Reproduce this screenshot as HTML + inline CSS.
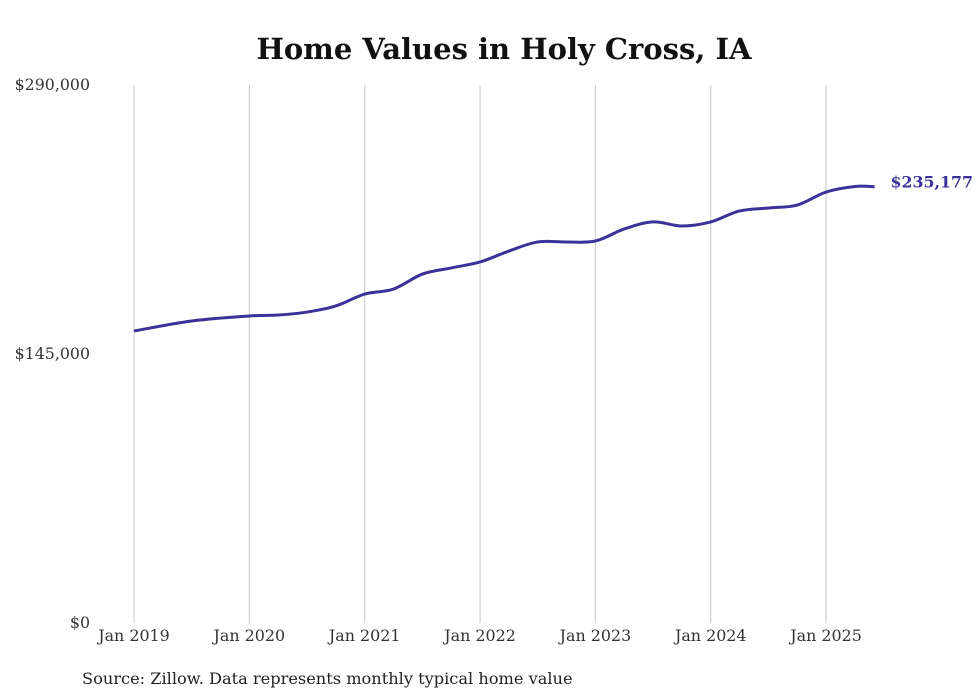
<!DOCTYPE html>
<html><head><meta charset="utf-8"><style>
body{margin:0;background:#fff;}
svg{display:block;font-family:"DejaVu Serif","Liberation Serif",serif;}
</style></head><body>
<svg id="chart" width="980" height="699">
<text x="504" y="59" text-anchor="middle" font-size="29" font-weight="bold" fill="#111">Home Values in Holy Cross, IA</text>
<g id="grid"></g><g id="yt"></g><g id="xt"></g>
<path id="line" fill="none" stroke="#3b3199" stroke-width="3"/>
<text id="endlabel" font-size="15.8" font-weight="bold" fill="#3b3199"></text>
<text x="82" y="684" font-size="16.2" fill="#222">Source: Zillow. Data represents monthly typical home value</text>
</svg>
<script>
const dates=[2019,2019.5,2020,2020.25,2020.5,2020.75,2021,2021.25,2021.5,2021.75,2022,2022.25,2022.5,2022.75,2023,2023.25,2023.5,2023.75,2024,2024.25,2024.5,2024.75,2025,2025.25,2025.42];
const values=[157400,162800,165500,166000,167600,170900,177300,180000,188100,191400,194600,200500,205400,205400,205900,212400,216200,214000,216200,222100,223700,225300,232300,235300,235177];
const yTicks=[0,145000,290000];
const yLabels=["$0","$145,000","$290,000"];
const xYears=[2019,2020,2021,2022,2023,2024,2025];
const xLabels=["Jan 2019","Jan 2020","Jan 2021","Jan 2022","Jan 2023","Jan 2024","Jan 2025"];
const NS="http://www.w3.org/2000/svg";
const X=d=>134+(d-2019)*115.35, Y=v=>623-v/290000*538;
function mk(t,a,p){const e=document.createElementNS(NS,t);for(const k in a)e.setAttribute(k,a[k]);p.appendChild(e);return e;}
const g=document.getElementById('grid'),yt=document.getElementById('yt'),xt=document.getElementById('xt');
xYears.forEach((d,i)=>{
 const l=mk('line',{x1:X(d),x2:X(d),y1:85,y2:623,stroke:'#c8c8c8','stroke-width':1},g);
 
 
 const t=mk('text',{x:X(d),y:641,'text-anchor':'middle','font-size':15.9,fill:'#333'},xt);t.textContent=xLabels[i];
 
 
});
yTicks.forEach((v,i)=>{
 const t=mk('text',{x:90,y:Y(v)+5,'text-anchor':'end','font-size':15.8,fill:'#333'},yt);t.textContent=yLabels[i];
 
 
});
const pts=dates.map((d,i)=>[X(d),Y(values[i])]);
let p='M'+pts[0][0]+','+pts[0][1];
for(let i=0;i<pts.length-1;i++){
 const p0=pts[Math.max(0,i-1)],p1=pts[i],p2=pts[i+1],p3=pts[Math.min(pts.length-1,i+2)];
 const c1=[p1[0]+(p2[0]-p0[0])/6,p1[1]+(p2[1]-p0[1])/6],c2=[p2[0]-(p3[0]-p1[0])/6,p2[1]-(p3[1]-p1[1])/6];
 p+=`C${c1[0]},${c1[1]} ${c2[0]},${c2[1]} ${p2[0]},${p2[1]}`;
}
document.getElementById('line').setAttribute('d',p);
const el=document.getElementById('endlabel'),last=pts[pts.length-1];
el.setAttribute('x',last[0]+16);el.setAttribute('y',last[1]+1);
el.textContent='$'+values[values.length-1].toLocaleString('en-US');
</script>
</body></html>
